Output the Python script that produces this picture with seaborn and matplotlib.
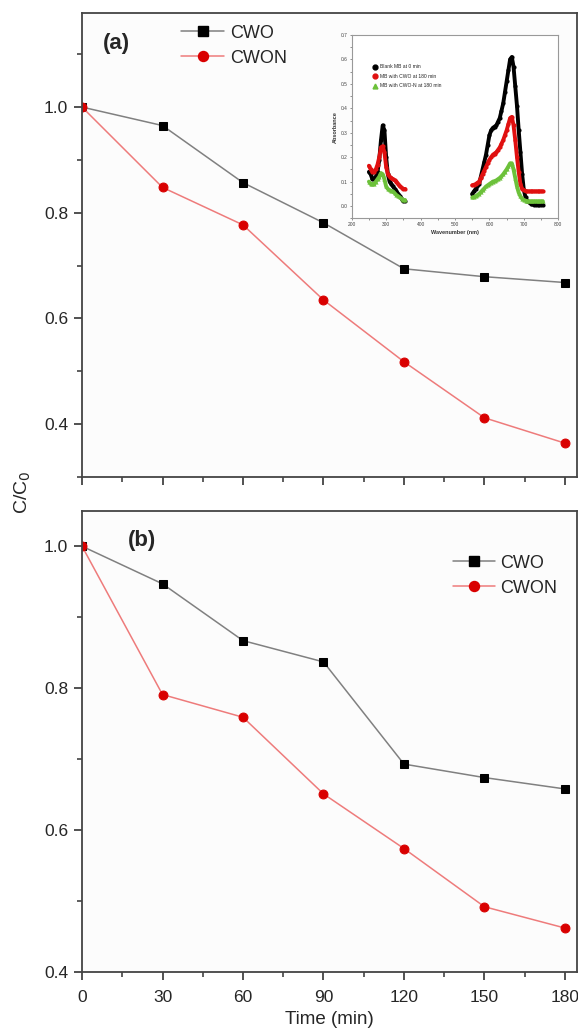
import matplotlib
matplotlib.use('Agg')
import matplotlib.pyplot as plt
from matplotlib.ticker import MultipleLocator, FormatStrFormatter
from matplotlib.lines import Line2D
import seaborn as sns

# photodegradation, C/C0 vs time
time_min = [0, 30, 60, 90, 120, 150, 180]
cwo_a = [1.0, 0.965, 0.857, 0.781, 0.694, 0.679, 0.668]
cwon_a = [1.0, 0.848, 0.777, 0.635, 0.518, 0.412, 0.364]
cwo_b = [1.0, 0.947, 0.867, 0.837, 0.693, 0.674, 0.658]
cwon_b = [1.0, 0.791, 0.759, 0.651, 0.574, 0.492, 0.462]
series_names = ['CWO', 'CWON']

# inset spectra, absorbance vs wavelength (nm), two measured windows
wl_uv = [250, 255, 260, 265, 270, 275, 280, 285, 290, 295, 300, 305, 310, 315, 320, 325, 330, 335, 340, 345, 350, 355]
blank_uv = [0.14, 0.13, 0.11, 0.11, 0.12, 0.14, 0.19, 0.27, 0.33, 0.31, 0.20, 0.13, 0.10, 0.09, 0.08, 0.07, 0.06,
            0.05, 0.04, 0.03, 0.02, 0.02]
cwo_uv = [0.165, 0.15, 0.14, 0.14, 0.15, 0.17, 0.20, 0.24, 0.245, 0.22, 0.16, 0.13, 0.12, 0.115, 0.11, 0.105, 0.10,
          0.09, 0.08, 0.075, 0.07, 0.07]
cwon_uv = [0.10, 0.09, 0.09, 0.09, 0.10, 0.11, 0.12, 0.135, 0.13, 0.11, 0.08, 0.07, 0.065, 0.062, 0.06, 0.052, 0.045,
           0.04, 0.035, 0.03, 0.025, 0.025]

wl_vis = [550, 555, 560, 565, 570, 575, 580, 585, 590, 595, 600, 605, 610, 615, 620, 625, 630, 635, 640, 645, 650,
          655, 660, 665, 670, 675, 680, 685, 690, 695, 700, 705, 710, 715, 720, 725, 730, 735, 740, 745, 750, 755]
blank_vis = [0.05, 0.06, 0.07, 0.08, 0.09, 0.12, 0.15, 0.18, 0.21, 0.25, 0.29, 0.31, 0.32, 0.325, 0.33, 0.345, 0.36,
             0.39, 0.42, 0.465, 0.51, 0.555, 0.60, 0.61, 0.57, 0.49, 0.41, 0.31, 0.22, 0.13, 0.065, 0.035, 0.02, 0.015,
             0.01, 0.008, 0.005, 0.005, 0.005, 0.005, 0.005, 0.005]
cwo_vis = [0.085, 0.087, 0.09, 0.095, 0.10, 0.115, 0.13, 0.145, 0.16, 0.175, 0.19, 0.20, 0.21, 0.215, 0.22, 0.23, 0.24,
           0.255, 0.27, 0.29, 0.31, 0.335, 0.36, 0.365, 0.33, 0.27, 0.20, 0.14, 0.09, 0.07, 0.065, 0.062, 0.06, 0.06,
           0.06, 0.06, 0.06, 0.06, 0.06, 0.06, 0.06, 0.06]
cwon_vis = [0.035, 0.037, 0.04, 0.045, 0.05, 0.057, 0.065, 0.072, 0.08, 0.085, 0.09, 0.095, 0.10, 0.102, 0.105, 0.11,
            0.115, 0.122, 0.13, 0.14, 0.15, 0.162, 0.175, 0.175, 0.15, 0.115, 0.08, 0.055, 0.04, 0.03, 0.025, 0.022,
            0.02, 0.02, 0.02, 0.02, 0.02, 0.02, 0.02, 0.02, 0.02, 0.02]
spec_names = ['Blank MB at 0 min', 'MB with CWO at 180 min', 'MB with CWO-N at 180 min']

sns.set_style('ticks')
plt.rcParams['font.family'] = ['Liberation Sans', 'DejaVu Sans']

fig = plt.figure(figsize=(5.78, 10.32), dpi=100)
ax_a = fig.add_axes([0.1419, 0.5378, 0.8564, 0.4496])
ax_b = fig.add_axes([0.1419, 0.0581, 0.8564, 0.4470])

line_grey = '#808080'
line_pink = '#ee7b7b'
red = '#d90000'


def draw_panel(ax, cwo, cwon):
    sns.lineplot(x=time_min, y=cwo, ax=ax, color=line_grey, lw=1.1, marker='s', markersize=5.6,
                 markerfacecolor='black', markeredgecolor='black')
    sns.lineplot(x=time_min, y=cwon, ax=ax, color=line_pink, lw=1.1, marker='o', markersize=6.4,
                 markerfacecolor=red, markeredgecolor=red)
    ax.set_xlim(0, 184.5)
    ax.xaxis.set_major_locator(MultipleLocator(30))
    ax.xaxis.set_minor_locator(MultipleLocator(15))
    ax.yaxis.set_minor_locator(MultipleLocator(0.1))
    ax.tick_params(which='major', direction='out', length=6, width=1.2, labelsize=12.5,
                   color='#333333', pad=4)
    ax.tick_params(which='minor', direction='out', length=3.5, width=1.1, color='#333333')
    for s in ax.spines.values():
        s.set_color('#444444')
        s.set_linewidth(1.3)
    ax.set_facecolor('#fcfcfc')
    ax.set_xlabel('')
    ax.set_ylabel('')
    handles = [Line2D([], [], color=line_grey, lw=1.1, marker='s', markersize=6.5,
                      markerfacecolor='black', markeredgecolor='black'),
               Line2D([], [], color=line_pink, lw=1.1, marker='o', markersize=7.2,
                      markerfacecolor=red, markeredgecolor=red)]
    return handles


h = draw_panel(ax_a, cwo_a, cwon_a)
ax_a.set_ylim(0.3, 1.178)
ax_a.set_yticks([0.4, 0.6, 0.8, 1.0])
ax_a.tick_params(axis='x', labelbottom=False)
ax_a.legend(h, series_names, loc='upper left', bbox_to_anchor=(0.2, 0.975), frameon=False,
            fontsize=13, handlelength=2.4, handletextpad=0.3, labelspacing=0.45,
            borderpad=0, borderaxespad=0)
ax_a.text(0.043, 0.935, '(a)', transform=ax_a.transAxes, fontsize=16, fontweight='bold', va='center')

h = draw_panel(ax_b, cwo_b, cwon_b)
ax_b.set_ylim(0.4, 1.05)
ax_b.set_yticks([0.4, 0.6, 0.8, 1.0])
ax_b.tick_params(axis='x', pad=7)
ax_b.legend(h, series_names, loc='upper left', bbox_to_anchor=(0.75, 0.905), frameon=False,
            fontsize=13, handlelength=2.3, handletextpad=0.3, labelspacing=0.45,
            borderpad=0, borderaxespad=0)
ax_b.text(0.092, 0.935, '(b)', transform=ax_b.transAxes, fontsize=16, fontweight='bold', va='center')
ax_b.set_xlabel('Time (min)', fontsize=13.5, labelpad=4)

fig.text(0.04, 0.523, 'C/C$_0$', rotation=90, fontsize=14, ha='center', va='center')

# inset: UV-vis spectra
ax_in = fig.add_axes([0.6085, 0.7885, 0.3574, 0.1776])
spec_colors = ['black', '#e01010', '#6cc13a']
spec_markers = ['o', 'o', '^']
spectra = [(blank_uv, blank_vis), (cwo_uv, cwo_vis), (cwon_uv, cwon_vis)]
for (uv, vis), c, m in zip(spectra, spec_colors, spec_markers):
    for wl, vals in ((wl_uv, uv), (wl_vis, vis)):
        sns.lineplot(x=wl, y=vals, ax=ax_in, color=c, lw=2.8, marker=m, markersize=3,
                     markeredgewidth=0)
ax_in.set_xlim(200, 800)
ax_in.set_ylim(-0.05, 0.7)
ax_in.xaxis.set_major_locator(MultipleLocator(100))
ax_in.xaxis.set_minor_locator(MultipleLocator(50))
ax_in.yaxis.set_major_locator(MultipleLocator(0.1))
ax_in.yaxis.set_minor_locator(MultipleLocator(0.05))
ax_in.yaxis.set_major_formatter(FormatStrFormatter('%.1f'))
ax_in.tick_params(which='both', direction='out', length=1.5, width=0.5, labelsize=3.5,
                  pad=1.5, color='#666666', labelcolor='#444444')
for s in ax_in.spines.values():
    s.set_color('#999999')
    s.set_linewidth(0.8)
ax_in.set_xlabel('Wavenumber (nm)', fontsize=4, fontweight='bold', labelpad=2, color='#333333')
ax_in.set_ylabel('Absorbance', fontsize=4, fontweight='bold', labelpad=2, color='#333333')
spec_handles = [Line2D([], [], ls='', marker=m, color=c, markersize=3.5)
                for c, m in zip(spec_colors, spec_markers)]
ax_in.legend(spec_handles, spec_names, loc='upper left', bbox_to_anchor=(0.1, 0.84), frameon=False,
             fontsize=3.6, handlelength=1.0, handletextpad=0.6, labelspacing=0.9,
             borderpad=0, borderaxespad=0)

fig.savefig('out.png', dpi=100)
